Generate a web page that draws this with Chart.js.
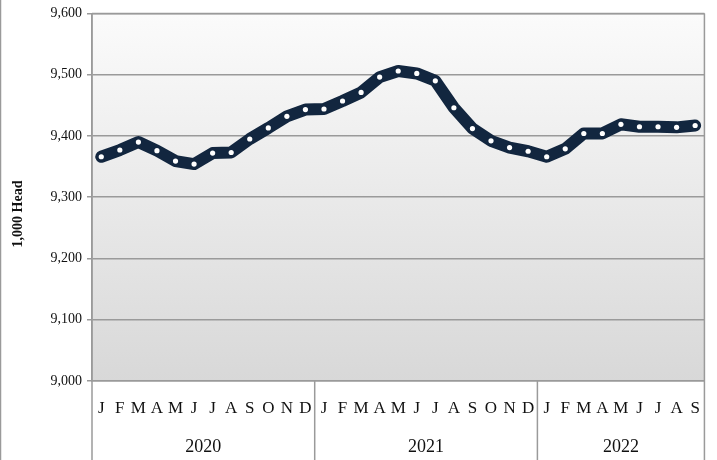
<!DOCTYPE html>
<html>
<head>
<meta charset="utf-8">
<script src="https://cdn.jsdelivr.net/npm/chart.js@4/dist/chart.umd.min.js"></script>
<style>
  html, body { margin: 0; padding: 0; background: #ffffff; }
  #wrap { width: 717px; height: 460px; position: relative; }
</style>
</head>
<body>
<div id="wrap"><canvas id="c" width="717" height="460"></canvas></div>
<script>
// ---- Data ----
const monthLetters = ['J','F','M','A','M','J','J','A','S','O','N','D'];
const years = ['2020', '2021', '2022'];
const values2020 = [9366, 9377, 9390, 9376, 9359, 9354, 9372, 9373, 9395, 9413, 9432, 9443];
const values2021 = [9444, 9457, 9471, 9496, 9506, 9502, 9490, 9446, 9412, 9392, 9381, 9375];
const values2022 = [9366, 9379, 9404, 9404, 9419, 9415, 9415, 9414, 9417];
const yAxisTitle = '1,000 Head';
const yMin = 9000, yMax = 9600, yStep = 100;

const yearSeries = [values2020, values2021, values2022];
const labels = [];
const data = [];
yearSeries.forEach((vals) => {
  vals.forEach((v, mi) => {
    labels.push(monthLetters[mi]);
    data.push(v);
  });
});

const SERIF = "'Liberation Serif', 'Times New Roman', serif";
const GRID = '#9a9a9a';

const decor = {
  id: 'decor',
  beforeDraw(chart) {
    const { ctx, chartArea: a } = chart;
    const grad = ctx.createLinearGradient(0, a.top, 0, a.bottom);
    grad.addColorStop(0, '#fbfbfb');
    grad.addColorStop(1, '#d8d8d8');
    ctx.save();
    ctx.fillStyle = grad;
    ctx.fillRect(a.left, a.top, a.right - a.left, a.bottom - a.top);
    ctx.restore();
  },
  afterDraw(chart) {
    const { ctx, chartArea: a, scales } = chart;
    const x = scales.x;
    const H = chart.height;
    ctx.save();
    ctx.strokeStyle = GRID;
    ctx.lineWidth = 1.5;
    ctx.beginPath();
    ctx.moveTo(a.left, a.top); ctx.lineTo(a.right, a.top);
    ctx.moveTo(a.right, a.top); ctx.lineTo(a.right, H);
    ctx.moveTo(a.left, a.top); ctx.lineTo(a.left, H);
    ctx.stroke();
    ctx.beginPath();
    ctx.moveTo(0.5, 0); ctx.lineTo(0.5, H);
    ctx.stroke();
    let start = 0;
    ctx.fillStyle = '#111';
    ctx.font = '18px ' + SERIF;
    ctx.textAlign = 'center';
    ctx.textBaseline = 'middle';
    const half = (x.getPixelForValue(1) - x.getPixelForValue(0)) / 2;
    for (let yi = 0; yi < years.length; yi++) {
      const n = yearSeries[yi].length;
      const end = start + n - 1;
      const leftEdge = x.getPixelForValue(start) - half;
      const rightEdge = x.getPixelForValue(end) + half;
      if (yi > 0) {
        ctx.beginPath();
        ctx.moveTo(leftEdge, a.bottom); ctx.lineTo(leftEdge, H);
        ctx.stroke();
      }
      ctx.fillText(years[yi], (leftEdge + rightEdge) / 2, 447);
      start = end + 1;
    }
    ctx.translate(18, 214);
    ctx.rotate(-Math.PI / 2);
    ctx.font = 'bold 14px ' + SERIF;
    ctx.fillStyle = '#111';
    ctx.fillText(yAxisTitle, 0, 0);
    ctx.restore();
  }
};

new Chart(document.getElementById('c'), {
  type: 'line',
  data: {
    labels: labels,
    datasets: [{
      data: data,
      borderColor: '#12263f',
      backgroundColor: '#12263f',
      borderWidth: 12,
      borderJoinStyle: 'round',
      borderCapStyle: 'round',
      tension: 0,
      pointStyle: 'circle',
      pointRadius: 2.6,
      pointHoverRadius: 2.6,
      pointBackgroundColor: '#ffffff',
      pointBorderWidth: 0,
      pointBorderColor: '#ffffff',
      fill: false
    }]
  },
  options: {
    responsive: false,
    animation: false,
    events: [],
    layout: { padding: { top: 13, right: 8, left: 0, bottom: 0 } },
    plugins: { legend: { display: false }, tooltip: { enabled: false } },
    scales: {
      x: {
        type: 'category',
        offset: true,
        grid: { display: false, drawTicks: false },
        border: { display: true, color: GRID, width: 1.5 },
        ticks: {
          color: '#111',
          font: { family: SERIF, size: 17 },
          padding: 17,
          maxRotation: 0,
          autoSkip: false
        },
        afterFit(s) { s.height = 79; }
      },
      y: {
        min: yMin, max: yMax,
        grid: { color: GRID, lineWidth: 1.5, drawTicks: true, tickLength: 5, tickColor: GRID },
        border: { display: true, color: GRID, width: 1.5 },
        ticks: {
          stepSize: yStep,
          color: '#111',
          font: { family: SERIF, size: 14 },
          padding: 5,
          callback: v => v.toLocaleString('en-US')
        },
        afterFit(s) { s.width = 92; }
      }
    }
  },
  plugins: [decor]
});
</script>
</body>
</html>
